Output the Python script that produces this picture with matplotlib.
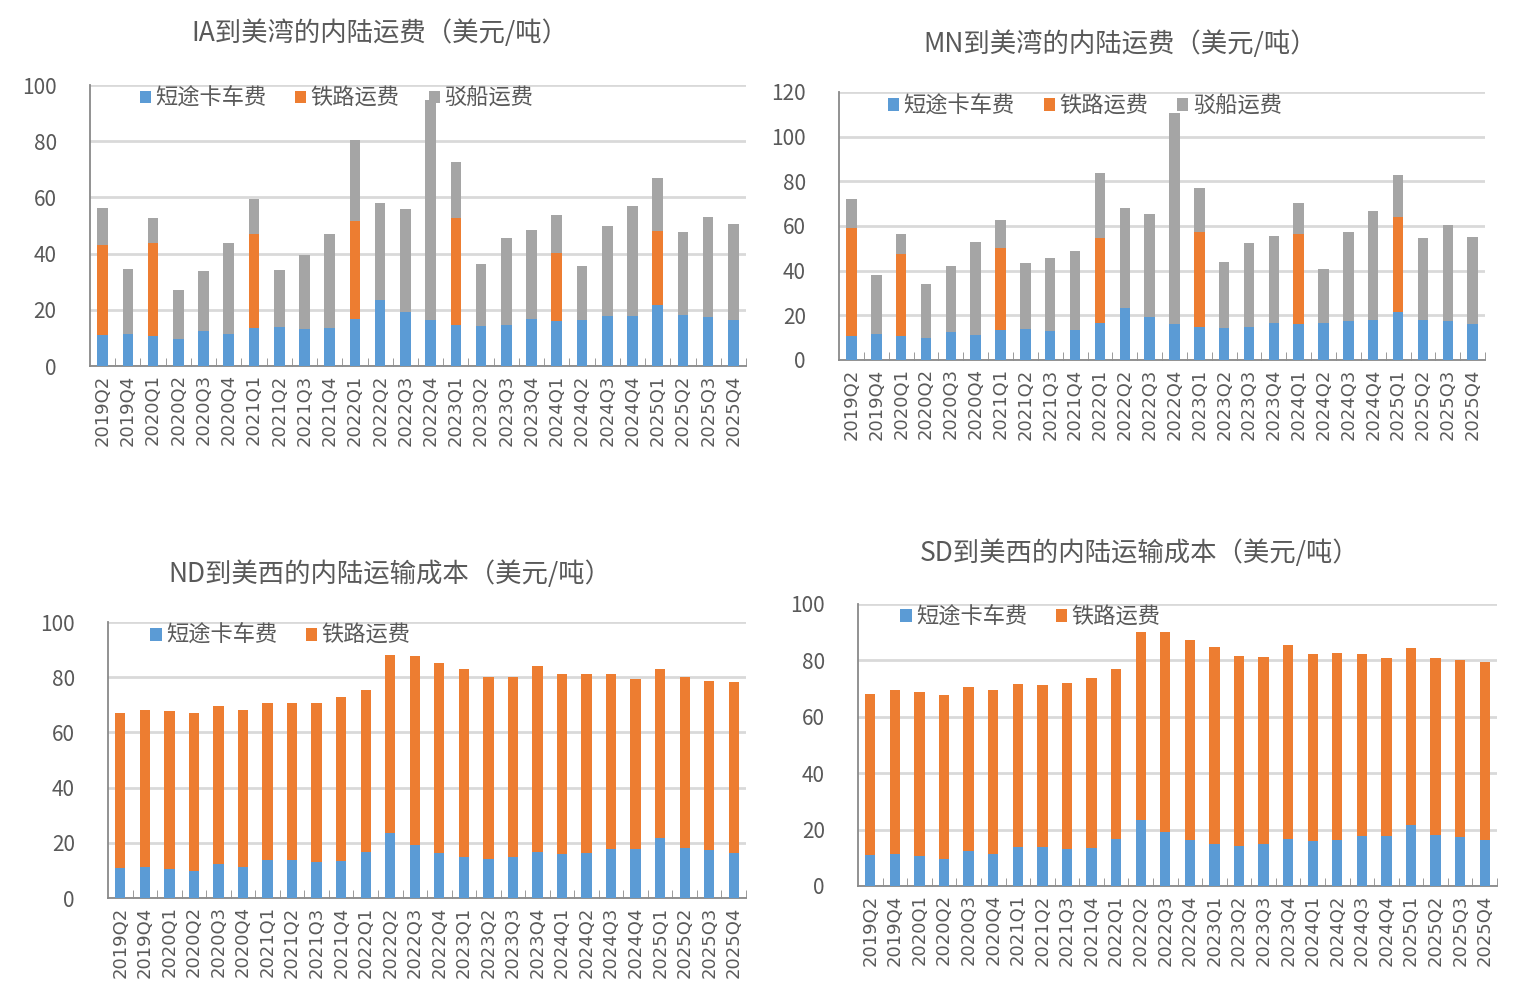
import matplotlib
matplotlib.use('Agg')
import matplotlib.pyplot as plt
from matplotlib.ticker import MultipleLocator, FixedLocator

plt.rcParams['font.family'] = ['Noto Sans CJK SC', 'DejaVu Sans']

quarters = ['2019Q2', '2019Q4', '2020Q1', '2020Q2', '2020Q3', '2020Q4',
            '2021Q1', '2021Q2', '2021Q3', '2021Q4', '2022Q1', '2022Q2',
            '2022Q3', '2022Q4', '2023Q1', '2023Q2', '2023Q3', '2023Q4',
            '2024Q1', '2024Q2', '2024Q3', '2024Q4', '2025Q1', '2025Q2',
            '2025Q3', '2025Q4']

# IA -> gulf
ia_truck = [11.0, 11.4, 10.8, 9.6, 12.4, 11.4, 13.6, 13.9, 13.2, 13.6, 16.7, 23.5, 19.2,
            16.4, 14.6, 14.2, 14.6, 16.7, 16.0, 16.4, 17.8, 17.8, 21.7, 18.1, 17.4, 16.4]
ia_rail = [32.0, 0, 32.9, 0, 0, 0, 33.4, 0, 0, 0, 34.8, 0, 0,
           0, 38.0, 0, 0, 0, 24.2, 0, 0, 0, 26.3, 0, 0, 0]
ia_barge = [13.2, 23.1, 8.9, 17.4, 21.4, 32.3, 12.4, 20.2, 26.3, 33.3, 28.8, 34.4, 36.6,
            78.1, 19.9, 22.1, 30.9, 31.6, 13.5, 19.1, 32.0, 39.1, 18.8, 29.5, 35.6, 34.1]

# MN -> gulf
mn_truck = [10.7, 11.6, 10.7, 9.8, 12.5, 11.2, 13.5, 13.8, 12.9, 13.5, 16.5, 23.2, 19.2,
            16.1, 14.7, 14.3, 14.7, 16.5, 16.1, 16.5, 17.4, 17.9, 21.4, 17.9, 17.4, 16.1]
mn_rail = [48.4, 0, 36.8, 0, 0, 0, 36.6, 0, 0, 0, 38.0, 0, 0,
           0, 42.4, 0, 0, 0, 40.2, 0, 0, 0, 42.4, 0, 0, 0]
mn_barge = [12.8, 26.3, 8.8, 24.1, 29.5, 41.5, 12.4, 29.5, 32.6, 35.2, 29.0, 44.7, 46.0,
            94.6, 20.1, 29.5, 37.5, 38.9, 13.8, 24.1, 39.7, 48.6, 18.8, 36.6, 42.9, 38.8]

# ND -> PNW
nd_truck = [11.0, 11.2, 10.5, 9.8, 12.4, 11.2, 13.9, 13.9, 13.1, 13.4, 16.7, 23.5, 19.2,
            16.3, 14.8, 14.1, 14.8, 16.7, 16.0, 16.3, 17.7, 17.7, 21.8, 18.2, 17.5, 16.3]
nd_rail = [55.9, 57.1, 57.1, 57.1, 57.0, 57.1, 56.9, 56.9, 57.7, 59.3, 58.8, 64.7, 68.6,
           69.0, 68.0, 65.8, 65.1, 67.2, 65.0, 65.0, 63.3, 61.8, 61.3, 61.7, 61.3, 61.8]

# SD -> PNW
sd_truck = [11.0, 11.5, 10.7, 9.6, 12.4, 11.5, 13.8, 13.8, 13.1, 13.6, 16.6, 23.5, 19.2,
            16.4, 15.0, 14.3, 15.0, 16.6, 15.9, 16.4, 17.8, 17.8, 21.6, 18.1, 17.4, 16.4]
sd_rail = [57.0, 57.9, 58.0, 58.0, 58.1, 57.9, 57.7, 57.4, 58.8, 60.1, 60.3, 66.5, 70.8,
           70.7, 69.7, 67.2, 66.1, 68.8, 66.3, 66.1, 64.4, 63.0, 62.7, 62.7, 62.6, 62.9]

BLUE = '#5B9BD5'
ORANGE = '#ED7D31'
GRAY = '#A5A5A5'
TXT = '#595959'


def draw_panel(ax, title, tx, ty, series, ymax, leg_x):
    x = list(range(len(quarters)))
    bottom = [0.0] * len(quarters)
    for vals, color, name in series:
        ax.bar(x, vals, width=0.42, bottom=bottom, color=color, label=name, zorder=3)
        bottom = [b + v for b, v in zip(bottom, vals)]
    ax.set_xlim(-0.5, len(quarters) - 0.5)
    ax.set_ylim(0, ymax)
    ax.yaxis.set_major_locator(MultipleLocator(20))
    ax.grid(axis='y', color='#D9D9D9', linewidth=2, zorder=0)
    ax.set_axisbelow(True)
    for s in ['top', 'right']:
        ax.spines[s].set_visible(False)
    for s in ['left', 'bottom']:
        ax.spines[s].set_color('#898989')
        ax.spines[s].set_linewidth(1.3)
    ax.set_xticks(x)
    ax.set_xticklabels(quarters, rotation=90, fontsize=13, color=TXT,
                       family=['DejaVu Sans'])
    ax.xaxis.set_minor_locator(FixedLocator([i + 0.5 for i in x]))
    ax.tick_params(axis='x', which='major', length=0, pad=6)
    ax.tick_params(axis='x', which='minor', length=6, direction='in', color='#898989')
    ax.tick_params(axis='y', length=0, labelsize=15, labelcolor=TXT, pad=24)
    ax.legend(loc='upper left', bbox_to_anchor=(leg_x, 1.065), ncol=3, frameon=False,
              fontsize=16, handlelength=0.5, handleheight=0.5, handletextpad=0.2,
              columnspacing=1.3, labelcolor=TXT)
    ax.figure.text(tx, ty, title, ha='center', va='center', fontsize=19, color=TXT)


fig = plt.figure(figsize=(15.2, 9.9), dpi=100)

ax1 = fig.add_axes([0.0592, 0.6303, 0.4316, 0.2838])
draw_panel(ax1, 'IA到美湾的内陆运费（美元/吨）', 0.25, 0.9667,
           [(ia_truck, BLUE, '短途卡车费'), (ia_rail, ORANGE, '铁路运费'),
            (ia_barge, GRAY, '驳船运费')], 100, 0.045)

ax2 = fig.add_axes([0.552, 0.6364, 0.425, 0.2707])
draw_panel(ax2, 'MN到美湾的内陆运费（美元/吨）', 0.737, 0.9556,
           [(mn_truck, BLUE, '短途卡车费'), (mn_rail, ORANGE, '铁路运费'),
            (mn_barge, GRAY, '驳船运费')], 120, 0.045)

ax3 = fig.add_axes([0.0711, 0.0929, 0.4197, 0.2788])
draw_panel(ax3, 'ND到美西的内陆运输成本（美元/吨）', 0.2566, 0.4202,
           [(nd_truck, BLUE, '短途卡车费'), (nd_rail, ORANGE, '铁路运费')], 100, 0.035)

ax4 = fig.add_axes([0.5645, 0.1051, 0.4204, 0.2848])
draw_panel(ax4, 'SD到美西的内陆运输成本（美元/吨）', 0.75, 0.4414,
           [(sd_truck, BLUE, '短途卡车费'), (sd_rail, ORANGE, '铁路运费')], 100, 0.035)

plt.savefig('out.png', dpi=100)
plt.close()
